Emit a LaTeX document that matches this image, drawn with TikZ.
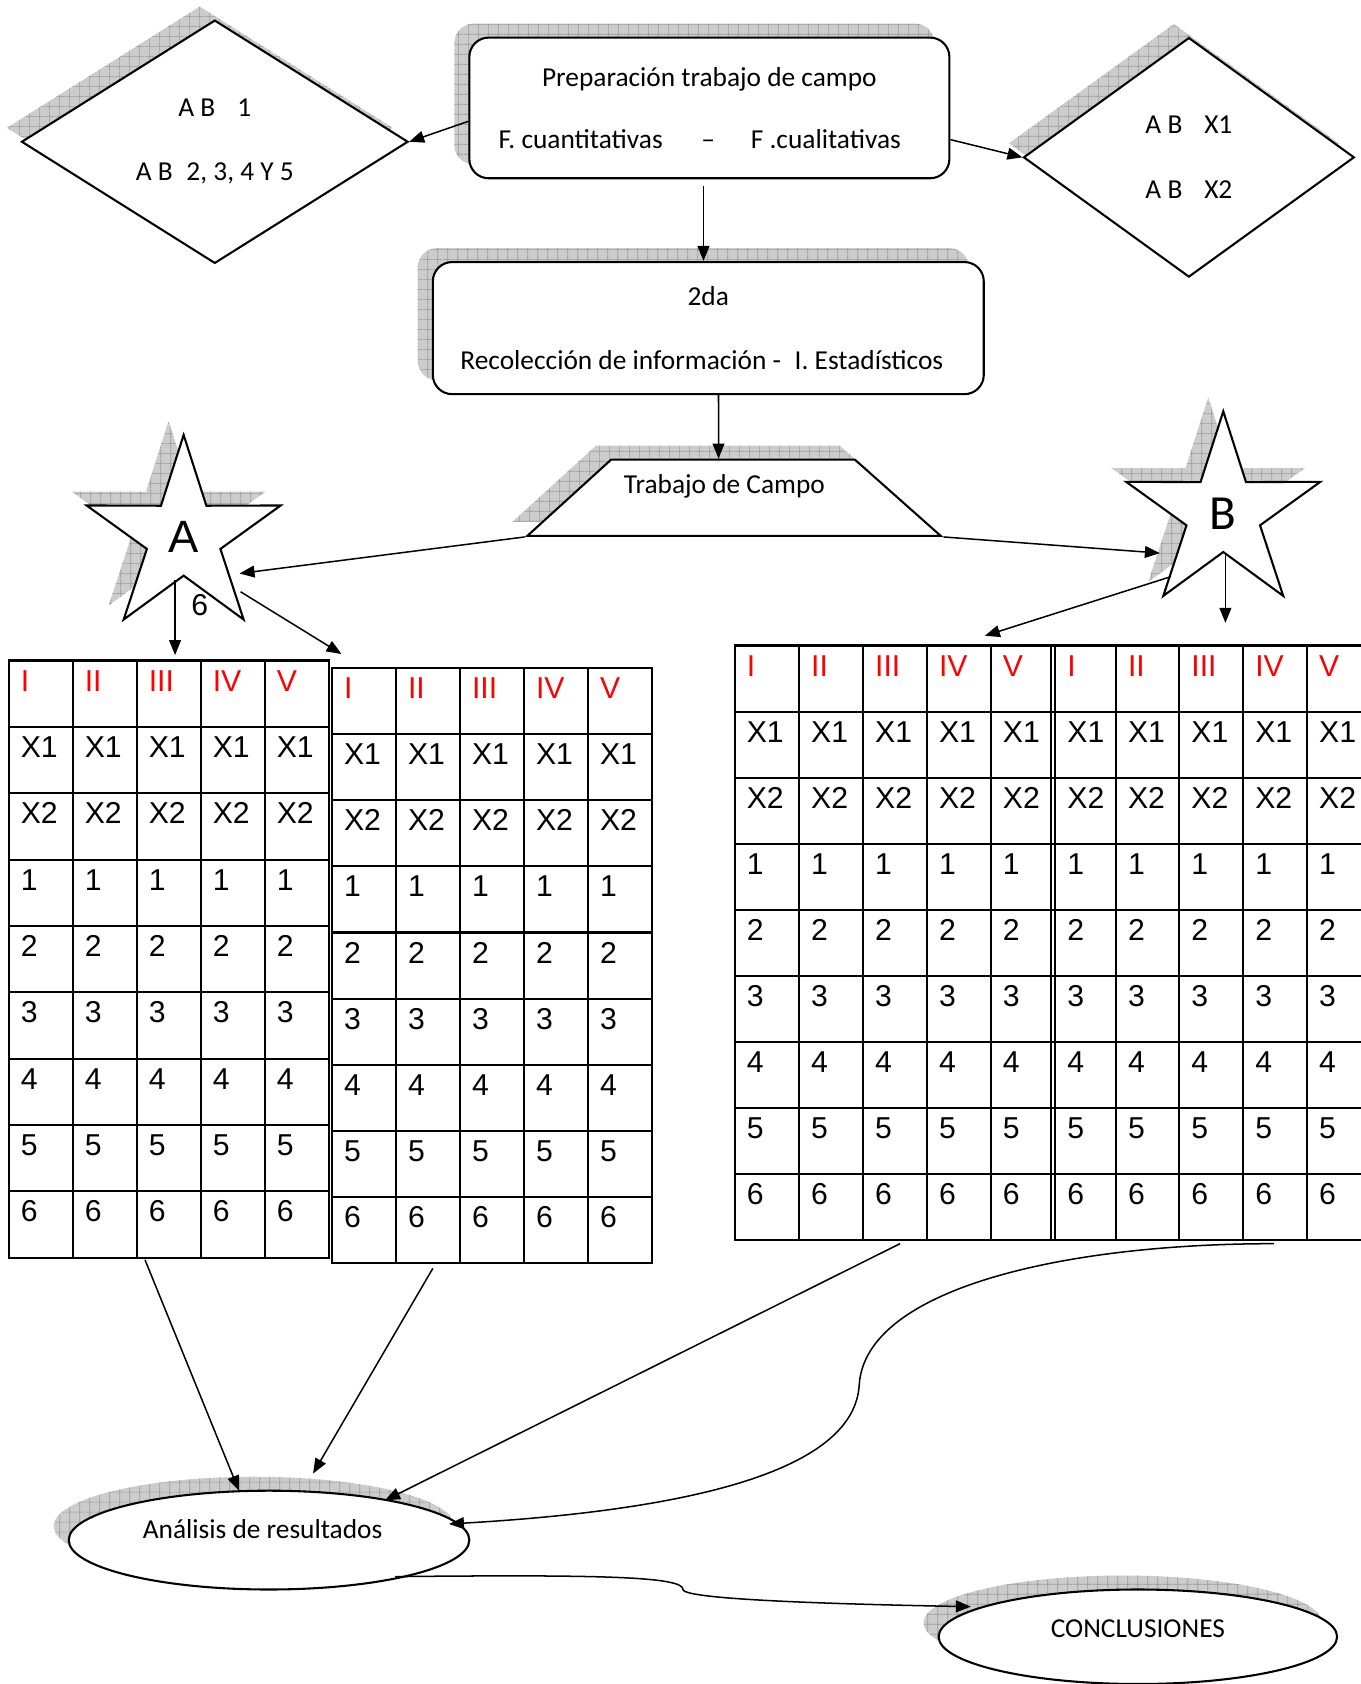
\documentclass[tikz,border=0pt]{standalone}
\usepackage{fontspec}
\setmainfont{Carlito}
\newfontfamily\arialfont{Liberation Sans}
\usetikzlibrary{shapes.geometric,arrows.meta,shadows,patterns.meta,calc}

\definecolor{shadebase}{gray}{0.80}
\definecolor{shadeline}{gray}{0.60}

\tikzset{
  hatchshadow/.style={
    general shadow={shadow xshift=-2.8mm, shadow yshift=2.6mm, fill=shadebase},
    general shadow={shadow xshift=-2.8mm, shadow yshift=2.6mm,
      pattern={Hatch[distance=1.9mm, line width=0.3pt]}, pattern color=shadeline}},
  flowshape/.style={draw, line width=1.1pt, fill=white, hatchshadow, inner sep=0pt,
    font=\fontsize{14.5}{17.4}\selectfont, align=center},
  roundbox/.style={flowshape, rectangle, rounded corners=3.6mm},
  decision/.style={flowshape, diamond},
  starshape/.style={flowshape, star, star points=5, star point ratio=2.64, minimum size=38mm},
  oval/.style={flowshape, ellipse},
  conn/.style={line width=0.8pt, -{Triangle[length=2.8mm,width=2.2mm]}},
  tabline/.style={line width=1.1pt},
  celltext/.style={anchor=base west, inner sep=0pt, font=\arialfont\fontsize{16}{19}\selectfont},
}

% a 5 x 9 grid: name, left, top, width, height
\newcommand\fivecoltable[5]{%
  \coordinate (#1-nw) at (#2,#3);
  \coordinate (#1-sw) at (#2,#3+#5);
  \coordinate (#1-se) at (#2+#4,#3+#5);
  \draw[tabline] (#1-nw) rectangle (#1-se);
  \foreach \ci in {1,...,4}
    \draw[tabline] ($(#1-nw)+(\ci*#4/5,0)$) -- ($(#1-sw)+(\ci*#4/5,0)$);
  \foreach \ri in {1,...,8}
    \draw[tabline] ($(#1-nw)+(0,\ri*#5/9)$) -- ($(#1-nw)+(#4,\ri*#5/9)$);
  \foreach \rom [count=\ci from 0] in {I,II,III,IV,V}{
    \node[celltext, text=red] (#1-r0-\ci) at ($(#1-nw)+(\ci*#4/5+11,28.5)$) {\rom};
    \node[celltext] (#1-r1-\ci) at ($(#1-nw)+(\ci*#4/5+11,#5/9+28.5)$) {X1};
    \node[celltext] (#1-r2-\ci) at ($(#1-nw)+(\ci*#4/5+11,2*#5/9+28.5)$) {X2};
    \foreach \ri in {3,...,8}{
      \pgfmathtruncatemacro\cellnum{\ri-2}
      \node[celltext] (#1-r\ri-\ci) at ($(#1-nw)+(\ci*#4/5+11,\ri*#5/9+28.5)$) {\cellnum};
    }
  }
}

\begin{document}
\begin{tikzpicture}[x=0.2mm, y=-0.2mm]
\useasboundingbox (0,0) rectangle (1267,1568);

% flow shapes
\node[roundbox, minimum width=89.4mm, minimum height=26.2mm] (prep) at (660.5,100.5)
  {Preparación trabajo de campo\\[15.5pt]F. cuantitativas\hspace{20.5pt}–\hspace{19pt}F .cualitativas\hspace{3.6mm}\null};
\node[decision, minimum width=72mm, minimum height=44.8mm] (dl) at (200,132)
  {A B\hspace{0.8em}1\\[16.7pt]A B\hspace{0.5em}2, 3, 4 Y 5};
\node[decision, minimum width=61.6mm, minimum height=44.6mm] (dr) at (1107,146.5)
  {A B\hspace{0.8em}X1\\[16.7pt]A B\hspace{0.8em}X2};
\node[roundbox, minimum width=102.6mm, minimum height=24.6mm] (recol) at (659.5,305.5)
  {2da\\[16.8pt]Recolección de información -\hspace{0.5em}I. Estadísticos\hspace{2.4mm}\null};
\node[flowshape, trapezium, trapezium left angle=42.3, trapezium right angle=41.6,
  trapezium stretches body=true, minimum width=77mm, minimum height=14.2mm,
  text height=3.6mm, text depth=5.2mm, inner ysep=2.7mm]
  (trab) at (682.5,463.5) {Trabajo de Campo\hspace{3.2mm}};
\node[starshape, font=\arialfont\fontsize{24}{28}\selectfont] (starA) at (171,500) {A};
\node[starshape, font=\fontsize{26}{30}\selectfont] (starB) at (1139,478) {B};
\node[celltext, anchor=center] (sixA) at (186,563) {6};
\node[oval, minimum width=74.6mm, minimum height=18.4mm, text depth=4mm] (ana) at (250.5,1434)
  {Análisis de resultados\hspace{2.4mm}};
\node[oval, minimum width=74.2mm, minimum height=17.6mm, text depth=3.2mm] (conc) at (1059.5,1524)
  {CONCLUSIONES};

% tables
\fivecoltable{tL}{8}{615}{298}{556}
\fivecoltable{tM}{309}{622}{298}{554}

\coordinate (tR-nw) at (684,601);
\coordinate (tR-sw) at (684,1155);
\coordinate (tR-se) at (1277,1155);
\draw[tabline] (tR-nw) rectangle (tR-se);
\foreach \xv in {744,803.5,863,922.5,979,982.5,1039,1098,1157.5,1217}
  \draw[tabline] (\xv,601) -- (\xv,1155);
\foreach \ri in {1,...,8}
  \draw[tabline] (684,{601+\ri*61.556}) -- (1277,{601+\ri*61.556});
\foreach \xl/\rom [count=\ci from 0] in {684/I,744/II,803.5/III,863/IV,922.5/V,982.5/I,1039/II,1098/III,1157.5/IV,1217/V}{
  \node[celltext, text=red] (tR-r0-\ci) at (\xl+11,601+28.5) {\rom};
  \node[celltext] (tR-r1-\ci) at (\xl+11,601+61.556+28.5) {X1};
  \node[celltext] (tR-r2-\ci) at (\xl+11,601+2*61.556+28.5) {X2};
  \foreach \ri in {3,...,8}{
    \pgfmathtruncatemacro\cellnum{\ri-2}
    \node[celltext] (tR-r\ri-\ci) at (\xl+11,601+\ri*61.556+28.5) {\cellnum};
  }
}

% connectors
\draw[conn] ($(prep.west)+(0,12.5)$) -- (dl.east);
\draw[conn] ($(prep.east)+(0,29.5)$) -- (dr.west);
\draw[conn] ($(prep.south)+(-5.5,6)$) -- ($(recol.north)+(-4.5,0)$);
\draw[conn] ($(recol.south)+(9.5,0)$) -- ($(trab.north)+(-13.5,0)$);
\draw[conn] (trab.bottom left corner) -- ($(starA.center)+(52,34)$);
\draw[conn] (trab.bottom right corner) -- ($(starB.center)+(-59,37)$);
\draw[conn] ($(starA.center)+(-8,40)$) -- ($(tL-nw)+(155,-5)$);
\draw[conn] ($(starA.center)+(53,51)$) -- ($(tM-nw)+(9,-13)$);
\draw[conn] ($(starB.center)+(-49,59)$) -- ($(tR-nw)+(233,-9)$);
\draw[conn] ($(starB.center)+(2,37)$) -- ($(tR-nw)+(457,-21)$);
\draw[conn] ($(tL-sw)+(127,2)$) -- ($(ana.center)+(-28,-46)$);
\draw[conn] ($(tM-sw)+(94,5)$) -- ($(ana.center)+(41,-62)$);
\draw[conn] ($(tR-sw)+(154,3)$) -- ($(ana.center)+(108,-37)$);
\draw[conn] ($(tR-sw)+(502,3)$) .. controls ($(tR-sw)+(306,3)$) and ($(tR-sw)+(121,45)$)
  .. ($(tR-sw)+(116,135)$) .. controls ($(tR-sw)+(111,210)$) and ($(ana.center)+(409.5,-29)$)
  .. ($(ana.center)+(167.5,-15)$);
\draw[conn] ($(ana.center)+(117.5,34)$) .. controls ($(ana.center)+(310,32)$) and ($(ana.center)+(385.5,34)$)
  .. ($(ana.center)+(385.5,46)$) .. controls ($(ana.center)+(385.5,56)$) and ($(conc.center)+(-260,-30)$)
  .. ($(conc.center)+(-155.5,-28)$);
\end{tikzpicture}
\end{document}
